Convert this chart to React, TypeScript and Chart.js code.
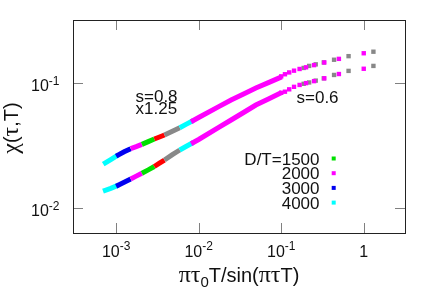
import React, { useEffect, useRef } from 'react';
import { Chart, registerables } from 'chart.js';

Chart.register(...registerables);

// ---------------- data ----------------
const xMin = 3.162e-4;
const xMax = 3.162;
const yMin = 6.31e-3;
const yMax = 0.3192;

const xTicks = [1e-3, 1e-2, 1e-1, 1];
const xTickLabels = ['10^-3', '10^-2', '10^-1', '1'];
const yTicks = [1e-2, 1e-1];
const yTickLabels = ['10^-2', '10^-1'];

// dense part of the curves (overlapping markers look like a thick band)
const bandX = [7.4e-4, 8.6e-4, 1.0e-3, 1.25e-3, 1.5e-3, 1.75e-3, 2.05e-3, 2.45e-3, 2.9e-3, 3.35e-3, 3.85e-3,
  4.8e-3, 5.9e-3, 7.1e-3, 8.6e-3, 1.0e-2, 1.75e-2, 2.47e-2, 3.5e-2, 4.93e-2, 7.0e-2, 9.5e-2];
// s=0.8 (x1.25)
const upperY = [0.02296, 0.02443, 0.0260, 0.02818, 0.02985, 0.03097, 0.03228, 0.03396, 0.03565, 0.03698, 0.03837,
  0.04111, 0.04385, 0.04688, 0.05012, 0.05297, 0.06471, 0.07311, 0.08166, 0.0912, 0.1007, 0.1099];
// s=0.6
const lowerY = [0.01384, 0.01435, 0.01496, 0.01607, 0.01706, 0.01799, 0.01897, 0.02018, 0.02148, 0.02286, 0.02421,
  0.02673, 0.02911, 0.03119, 0.03342, 0.03532, 0.04416, 0.05058, 0.05808, 0.06668, 0.07464, 0.08241];

// where each D/T data set becomes the visible (top) one along the band
const segmentStart = [7.4e-4, 1.0e-3, 1.5e-3, 2.05e-3, 2.9e-3, 3.85e-3, 5.9e-3, 8.6e-3];
const segmentColor = ['#00ffff', '#0000f0', '#ff00ff', '#00e000', '#ff0000', '#888888', '#00ffff', '#ff00ff'];

// sparse points at large x
const magentaTailX = [0.1, 0.111, 0.125, 0.143, 0.167, 0.2, 0.25, 0.333, 0.5, 1.0];
const magentaTailUpper = [0.113, 0.1175, 0.1215, 0.1255, 0.1295, 0.1335, 0.139, 0.146, 0.156, 0.173];
const magentaTailLower = [0.0835, 0.0852, 0.089, 0.0932, 0.0965, 0.0998, 0.1035, 0.109, 0.118, 0.13];
const grayTailX = [0.187, 0.218, 0.262, 0.328, 0.437, 0.655, 1.31];
const grayTailUpper = [0.132, 0.137, 0.141, 0.146, 0.1535, 0.164, 0.178];
const grayTailLower = [0.0985, 0.101, 0.1045, 0.109, 0.116, 0.125, 0.137];

const legendLabels = ['D/T=1500', '2000', '3000', '4000'];
const legendColors = ['#00e000', '#ff00ff', '#0000f0', '#00ffff'];

// ---------------- helpers ----------------
const SANS = '"Liberation Sans", Arial, Helvetica, sans-serif';
const GREEK = '"Liberation Serif", "DejaVu Serif", serif';

type Seg = { t: string; font: string; dy?: number };

function segsWidth(ctx: CanvasRenderingContext2D, segs: Seg[]) {
  let w = 0;
  for (const s of segs) {
    ctx.font = s.font;
    w += ctx.measureText(s.t).width;
  }
  return w;
}

function drawSegs(ctx: CanvasRenderingContext2D, segs: Seg[], x: number, y: number) {
  let cx = x;
  for (const s of segs) {
    ctx.font = s.font;
    ctx.fillText(s.t, cx, y + (s.dy || 0));
    cx += ctx.measureText(s.t).width;
  }
}

function powSegs(label: string): Seg[] {
  const [base, exp] = label.split('^');
  const segs: Seg[] = [{ t: base, font: `16px ${SANS}` }];
  if (exp) segs.push({ t: exp, font: `12px ${SANS}`, dy: -6.5 });
  return segs;
}

const decorPlugin = {
  id: 'decor',
  afterDraw(chart: any) {
    const ctx: CanvasRenderingContext2D = chart.ctx;
    const { left, right, top, bottom } = chart.chartArea;
    const xs = chart.scales.x;
    const ys = chart.scales.y;
    ctx.save();

    // tick marks (inside, mirrored)
    ctx.strokeStyle = '#808080';
    ctx.lineWidth = 1;
    ctx.beginPath();
    for (const t of xs.ticks) {
      const px = Math.round(xs.getPixelForValue(t.value)) + 0.5;
      ctx.moveTo(px, bottom);
      ctx.lineTo(px, bottom - 10);
      ctx.moveTo(px, top);
      ctx.lineTo(px, top + 10);
    }
    for (const t of ys.ticks) {
      const py = Math.round(ys.getPixelForValue(t.value)) + 0.5;
      ctx.moveTo(left, py);
      ctx.lineTo(left + 10, py);
      ctx.moveTo(right, py);
      ctx.lineTo(right - 10, py);
    }
    ctx.stroke();

    // frame
    ctx.strokeStyle = '#222222';
    ctx.strokeRect(left + 0.5, top + 0.5, right - left, bottom - top);

    ctx.fillStyle = '#111111';
    ctx.textBaseline = 'alphabetic';
    ctx.textAlign = 'left';

    // tick labels
    xs.ticks.forEach((t: any, i: number) => {
      const segs = powSegs(xTickLabels[i]);
      const w = segsWidth(ctx, segs);
      const px = xs.getPixelForValue(t.value);
      drawSegs(ctx, segs, px - w / 2, bottom + 23.5);
    });
    ys.ticks.forEach((t: any, i: number) => {
      const segs = powSegs(yTickLabels[i]);
      const w = segsWidth(ctx, segs);
      const py = ys.getPixelForValue(t.value);
      drawSegs(ctx, segs, left - 13.5 - w, py + 8);
    });

    // annotations
    ctx.font = `17px ${SANS}`;
    ctx.fillText('s=0.8', 135.5, 101.5);
    ctx.fillText('x1.25', 135.5, 114);
    ctx.fillText('s=0.6', 296.5, 102.5);

    // legend
    legendLabels.forEach((lab, i) => {
      const cy = 158.5 + i * 14.7;
      ctx.font = `17px ${SANS}`;
      ctx.textAlign = 'right';
      ctx.fillStyle = '#111111';
      ctx.fillText(lab, 319.5, cy + 6);
      ctx.fillStyle = legendColors[i];
      ctx.fillRect(331.7, cy - 2, 4, 4);
    });
    ctx.textAlign = 'left';
    ctx.fillStyle = '#111111';

    // x title: πτ0T/sin(πτT)
    const xt: Seg[] = [
      { t: 'πτ', font: `24px ${GREEK}` },
      { t: '0', font: `15px ${SANS}`, dy: 5 },
      { t: 'T/sin(', font: `20px ${SANS}` },
      { t: 'πτ', font: `24px ${GREEK}` },
      { t: 'T)', font: `20px ${SANS}` },
    ];
    const xw = segsWidth(ctx, xt);
    drawSegs(ctx, xt, (left + right) / 2 - xw / 2, 282);

    // y title: χ(τ,T)
    const yt: Seg[] = [
      { t: 'χ', font: `24px ${GREEK}` },
      { t: '(', font: `20px ${SANS}` },
      { t: 'τ', font: `24px ${GREEK}` },
      { t: ',T)', font: `20px ${SANS}` },
    ];
    const yw = segsWidth(ctx, yt);
    ctx.translate(18, 128);
    ctx.rotate(-Math.PI / 2);
    drawSegs(ctx, yt, -yw / 2, 0);

    ctx.restore();
  },
};

function bandData(ys: number[], from: number, to: number) {
  const out: { x: number; y: number }[] = [];
  bandX.forEach((x, i) => {
    if (x >= from && x <= to) out.push({ x, y: ys[i] });
  });
  return out;
}

function pts(xsArr: number[], ysArr: number[]) {
  return xsArr.map((x, i) => ({ x, y: ysArr[i] }));
}

export default function App() {
  const ref = useRef<HTMLCanvasElement | null>(null);

  useEffect(() => {
    if (!ref.current) return;
    const datasets: any[] = [];
    const lastX = bandX[bandX.length - 1];
    for (const curve of [upperY, lowerY]) {
      segmentStart.forEach((from, k) => {
        const to = k + 1 < segmentStart.length ? segmentStart[k + 1] : lastX;
        datasets.push({
          data: bandData(curve, from, to),
          showLine: true,
          borderColor: segmentColor[k],
          backgroundColor: segmentColor[k],
          borderWidth: 5,
          borderCapStyle: k === 0 || k === segmentStart.length - 1 ? 'square' : 'butt',
          pointRadius: 0,
          tension: 0,
        });
      });
    }
    const tails: [number[], number[], string][] = [
      [grayTailX, grayTailUpper, '#888888'],
      [grayTailX, grayTailLower, '#888888'],
      [magentaTailX, magentaTailUpper, '#ff00ff'],
      [magentaTailX, magentaTailLower, '#ff00ff'],
    ];
    for (const [tx, ty, c] of tails) {
      datasets.push({
        data: pts(tx, ty),
        showLine: false,
        pointStyle: 'rect',
        pointRadius: 3.1,
        pointBorderWidth: 0,
        borderWidth: 0,
        backgroundColor: c,
        borderColor: c,
      });
    }
    datasets.forEach((d, i) => (d.order = -i));

    const chart = new Chart(ref.current, {
      type: 'scatter',
      data: { datasets },
      options: {
        animation: false,
        responsive: false,
        events: [],
        layout: { padding: { left: 73, right: 30, top: 20, bottom: 72 } },
        plugins: { legend: { display: false }, tooltip: { enabled: false } },
        scales: {
          x: {
            type: 'logarithmic',
            min: xMin,
            max: xMax,
            display: false,
            afterBuildTicks: (s: any) => {
              s.ticks = xTicks.map((v) => ({ value: v }));
            },
          },
          y: {
            type: 'logarithmic',
            min: yMin,
            max: yMax,
            display: false,
            afterBuildTicks: (s: any) => {
              s.ticks = yTicks.map((v) => ({ value: v }));
            },
          },
        },
      },
      plugins: [decorPlugin],
    });
    return () => chart.destroy();
  }, []);

  return (
    <canvas
      ref={ref}
      width={435}
      height={305}
      style={{ position: 'fixed', left: 0, top: 0, width: 435, height: 305, background: '#ffffff' }}
    />
  );
}
